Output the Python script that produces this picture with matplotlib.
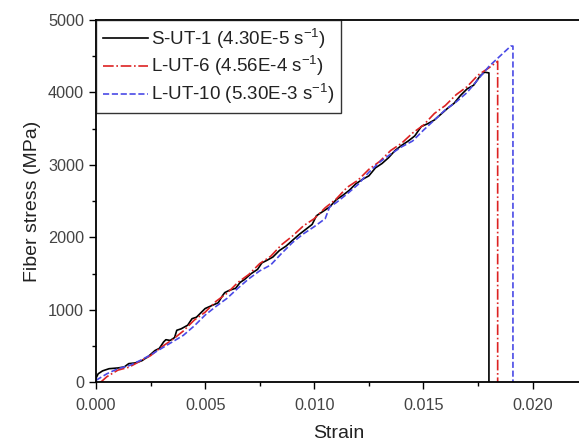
import matplotlib
matplotlib.use('Agg')
import matplotlib.pyplot as plt
from matplotlib.ticker import MultipleLocator

plt.rcParams['font.family'] = ['Liberation Sans', 'DejaVu Sans']
plt.rcParams['mathtext.default'] = 'regular'

# S-UT-1 (black, solid)
s_ut1_x = [0, 0.0001, 0.0003, 0.0006, 0.0010, 0.0013, 0.0015, 0.0018, 0.0021, 0.0024,
           0.0027, 0.0029, 0.0031, 0.0032, 0.0034, 0.0036, 0.0037, 0.0039, 0.0042, 0.0044,
           0.0046, 0.0048, 0.0050, 0.0053, 0.0056, 0.0058, 0.0059, 0.0061, 0.0064, 0.0066,
           0.0068, 0.0071, 0.0074, 0.0076, 0.0078, 0.0081, 0.0084, 0.0087, 0.0090, 0.0093,
           0.0096, 0.0099, 0.0101, 0.0104, 0.0107, 0.0110, 0.0113, 0.0116, 0.0119, 0.0122,
           0.0125, 0.0128, 0.0131, 0.0134, 0.0137, 0.0140, 0.0143, 0.0146, 0.0149, 0.0152,
           0.0155, 0.0158, 0.0161, 0.0164, 0.0167, 0.0170, 0.0173, 0.0176, 0.0178, 0.0180, 0.0180]
s_ut1_y = [60, 120, 160, 190, 200, 215, 260, 270, 300, 360,
           440, 470, 560, 590, 580, 620, 720, 740, 790, 880,
           900, 960, 1020, 1060, 1100, 1200, 1240, 1270, 1300, 1380,
           1420, 1500, 1560, 1650, 1680, 1730, 1820, 1880, 1960, 2040,
           2110, 2180, 2300, 2360, 2420, 2520, 2580, 2650, 2740, 2800,
           2850, 2960, 3020, 3100, 3200, 3270, 3330, 3400, 3530, 3570,
           3620, 3700, 3780, 3850, 3960, 4050, 4100, 4230, 4280, 4270, 0]

# L-UT-6 (red, dash-dot)
l_ut6_x = [0.0002, 0.0005, 0.0010, 0.0015, 0.0020, 0.0025, 0.0030, 0.0035, 0.0040, 0.0045,
           0.0050, 0.0055, 0.0060, 0.0065, 0.0070, 0.0075, 0.0080, 0.0085, 0.0090, 0.0095,
           0.0100, 0.0105, 0.0110, 0.0115, 0.0120, 0.0125, 0.0130, 0.0135, 0.0140, 0.0145,
           0.0150, 0.0155, 0.0160, 0.0165, 0.0170, 0.0175, 0.0180, 0.0184, 0.0184]
l_ut6_y = [0, 80, 170, 210, 290, 370, 490, 590, 710, 860,
           970, 1120, 1230, 1380, 1490, 1640, 1740, 1900, 2020, 2160,
           2260, 2410, 2530, 2690, 2790, 2940, 3050, 3200, 3300, 3440,
           3550, 3710, 3820, 3970, 4080, 4240, 4340, 4430, 0]

# L-UT-10 (blue, dashed)
l_ut10_x = [0, 0.0005, 0.0010, 0.0015, 0.0020, 0.0025, 0.0030, 0.0035, 0.0040, 0.0045,
            0.0050, 0.0055, 0.0060, 0.0065, 0.0070, 0.0075, 0.0080, 0.0085, 0.0090, 0.0095,
            0.0100, 0.0105, 0.0107, 0.0110, 0.0115, 0.0120, 0.0125, 0.0130, 0.0135, 0.0140,
            0.0145, 0.0150, 0.0155, 0.0160, 0.0165, 0.0170, 0.0175, 0.0180, 0.0185, 0.0190,
            0.0191, 0.0191]
l_ut10_y = [30, 120, 190, 230, 300, 380, 470, 560, 650, 780,
            930, 1050, 1160, 1300, 1430, 1540, 1620, 1780, 1930, 2050,
            2150, 2260, 2420, 2480, 2600, 2730, 2900, 3040, 3150, 3250,
            3330, 3480, 3620, 3760, 3870, 4000, 4180, 4360, 4500, 4640,
            4640, 0]

labels = ['S-UT-1 (4.30E-5 s$^{-1}$)', 'L-UT-6 (4.56E-4 s$^{-1}$)', 'L-UT-10 (5.30E-3 s$^{-1}$)']

fig = plt.figure(figsize=(5.79, 4.41), dpi=100)
ax = fig.add_axes([0.1658, 0.1327, 0.837, 0.822])

ax.plot(s_ut1_x, s_ut1_y, color='black', linestyle='-', linewidth=1.2, label=labels[0])
ax.plot(l_ut6_x, l_ut6_y, color='#dd2222', linestyle='-.', linewidth=1.2, label=labels[1])
ax.plot(l_ut10_x, l_ut10_y, color='#4a4ae6', linestyle='--', linewidth=1.2, label=labels[2])

ax.set_xlim(0, 0.0222)
ax.set_ylim(0, 5000)
ax.xaxis.set_major_locator(MultipleLocator(0.005))
ax.xaxis.set_minor_locator(MultipleLocator(0.0025))
ax.yaxis.set_major_locator(MultipleLocator(1000))
ax.yaxis.set_minor_locator(MultipleLocator(500))
ax.xaxis.set_major_formatter(plt.FormatStrFormatter('%.3f'))
ax.tick_params(which='major', direction='out', length=5, width=1, labelsize=11.7,
               labelcolor='#444444')
ax.tick_params(axis='x', which='major', pad=6)
ax.tick_params(which='minor', direction='out', length=3, width=1)
ax.spines['right'].set_visible(False)
for s in ['left', 'bottom', 'top']:
    ax.spines[s].set_linewidth(1.3)

ax.set_xlabel('Strain', fontsize=14, labelpad=9, color='#222222')
ax.set_ylabel('Fiber stress (MPa)', fontsize=14, labelpad=5, color='#222222')

leg = ax.legend(loc='upper left', bbox_to_anchor=(0, 1), borderaxespad=0, fontsize=13.5,
                frameon=True, fancybox=False, edgecolor='black', handlelength=2.4,
                handletextpad=0.2, labelspacing=0.2, borderpad=0.35)
leg.get_frame().set_linewidth(1.0)
for t in leg.get_texts():
    t.set_color('#222222')

plt.savefig('out.png', dpi=100)
